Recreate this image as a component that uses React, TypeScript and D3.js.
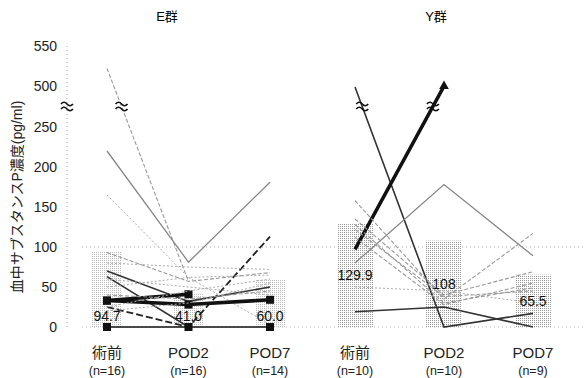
import React from 'react';
import * as d3 from 'd3';

const timepoints = ['術前', 'POD2', 'POD7'];
const countsE = ['(n=16)', '(n=16)', '(n=14)'];
const countsY = ['(n=10)', '(n=10)', '(n=9)'];
const meanE = [94.7, 41.0, 60.0];
const meanY = [129.9, 108, 65.5];
const meanLabelsE = ['94.7', '41.0', '60.0'];
const meanLabelsY = ['129.9', '108', '65.5'];
const yTicks = [0, 50, 100, 150, 200, 250, 500, 550];

// individual patients: values at 術前, POD2, POD7 (null = missing)
const patientsE = [
  { v: [522, 57, null], kind: 'grayDash' },
  { v: [220, 81, 181], kind: 'gray' },
  { v: [165, 62, 3], kind: 'grayDot' },
  { v: [93, 57, 68], kind: 'grayDash' },
  { v: [70, 32, 50], kind: 'dark' },
  { v: [63, 0, null], kind: 'dark' },
  { v: [25, 0, 113], kind: 'darkDash' },
  { v: [33, 28, 34], kind: 'bold', marker: true },
  { v: [33, 41, null], kind: 'bold', marker: true },
  { v: [0, 0, 0], kind: 'black', marker: true },
  { v: [25, 45, 60], kind: 'grayDot' },
  { v: [50, 62, 65], kind: 'grayDot' },
  { v: [80, 75, 72], kind: 'grayDot' },
  { v: [40, 35, 45], kind: 'grayDash' },
  { v: [20, 30, 55], kind: 'grayDot' },
  { v: [60, 50, 40], kind: 'grayDot' },
];

const patientsY = [
  { v: [494, 0, 17], kind: 'dark' },
  { v: [97, 499, null], kind: 'bold', arrow: true },
  { v: [80, 178, 89], kind: 'gray' },
  { v: [19, 25, 0], kind: 'dark' },
  { v: [158, 35, 117], kind: 'grayDash' },
  { v: [135, 40, 69], kind: 'grayDash' },
  { v: [128, 30, 49], kind: 'grayDash' },
  { v: [122, 38, 45], kind: 'grayDash' },
  { v: [50, 45, 30], kind: 'grayDot' },
  { v: [112, 28, 55], kind: 'grayDash' },
];

const styles: Record<string, any> = {
  gray: { stroke: '#888', width: 1.3, dash: null },
  grayDash: { stroke: '#999', width: 1.1, dash: '4,2' },
  grayDot: { stroke: '#aaa', width: 1, dash: '2,2' },
  dark: { stroke: '#333', width: 1.6, dash: null },
  darkDash: { stroke: '#222', width: 1.8, dash: '7,3' },
  bold: { stroke: '#111', width: 3.5, dash: null },
  black: { stroke: '#111', width: 1.6, dash: null },
};

const font = '"Liberation Sans", Arial, "Noto Sans CJK JP", sans-serif';

const y = d3.scaleLinear().domain([0, 250, 500, 550]).range([327, 127, 86, 46]);
const breakY = (y(250) + y(500)) / 2;

function Squiggle({ cx, cy }: { cx: number; cy: number }) {
  const w = (dy: number) => `M${cx - 6},${cy + dy} q3,-3.5 6,0 t6,0`;
  return (
    <g fill="none" stroke="#111" strokeWidth={1.6}>
      <path d={w(-2.5)} />
      <path d={w(2.5)} />
    </g>
  );
}

function Panel({ title, titleX, range, means, labels, counts, patients, barWidth, dotColor, pid, labelAt }: any) {
  const x = d3.scalePoint<string>().domain(timepoints).range(range);
  const line = d3
    .line<any>()
    .defined((d) => d.v != null)
    .x((d) => x(d.t) as number)
    .y((d) => y(d.v));

  // where a segment crosses the axis break, mark it with a squiggle
  const breaks: { cx: number; cy: number }[] = [];
  patients.forEach((p: any) => {
    for (let i = 0; i < 2; i++) {
      const a = p.v[i], b = p.v[i + 1];
      if (a == null || b == null) continue;
      const ya = y(a), yb = y(b);
      if ((ya - breakY) * (yb - breakY) < 0) {
        const f = (breakY - ya) / (yb - ya);
        const xa = x(timepoints[i]) as number, xb = x(timepoints[i + 1]) as number;
        breaks.push({ cx: xa + f * (xb - xa), cy: breakY });
      }
    }
  });

  return (
    <g>
      <defs>
        <pattern id={pid} width={2} height={2} patternUnits="userSpaceOnUse">
          <rect width={1} height={1} fill={dotColor} />
        </pattern>
      </defs>
      <text x={titleX} y={21} textAnchor="middle" fontSize={13} fontFamily={font}>
        {title}
      </text>
      {means.map((m: number, i: number) => (
        <rect
          key={i}
          x={(x(timepoints[i]) as number) - barWidth / 2}
          y={y(m)}
          width={barWidth}
          height={y(0) - y(m)}
          fill={`url(#${pid})`}
        />
      ))}
      {patients.map((p: any, k: number) => {
        const s = styles[p.kind];
        const pts = p.v.map((v: any, i: number) => ({ t: timepoints[i], v }));
        return (
          <g key={k}>
            <path
              d={line(pts) || ''}
              fill="none"
              stroke={s.stroke}
              strokeWidth={s.width}
              strokeDasharray={s.dash || undefined}
            />
            {p.marker &&
              pts
                .filter((d: any) => d.v != null)
                .map((d: any, i: number) => (
                  <rect key={i} x={(x(d.t) as number) - 4} y={y(d.v) - 4} width={8} height={8} fill="#111" />
                ))}
            {p.arrow && (
              <path
                d={d3.symbol().type(d3.symbolTriangle).size(40)() || ''}
                transform={`translate(${x(timepoints[1])},${y(p.v[1])})`}
                fill="#111"
              />
            )}
          </g>
        );
      })}
      {breaks.map((b, i) => (
        <Squiggle key={i} cx={b.cx} cy={b.cy} />
      ))}
      {means.map((m: number, i: number) => (
        <text
          key={i}
          x={x(timepoints[i]) as number}
          y={y(labelAt(m))}
          dy="0.35em"
          textAnchor="middle"
          fontSize={14}
          fontFamily={font}
          fill="#111"
        >
          {labels[i]}
        </text>
      ))}
      {timepoints.map((t, i) => (
        <g key={t} fontFamily={font} textAnchor="middle" fill="#222">
          <text x={x(t) as number} y={358} fontSize={15}>
            {t}
          </text>
          <text x={x(t) as number} y={375} fontSize={12.5}>
            {counts[i]}
          </text>
        </g>
      ))}
    </g>
  );
}

export default function App() {
  return (
    <svg width={588} height={378} style={{ position: 'absolute', left: 0, top: 0, background: '#fff' }}>
      <rect width={588} height={378} fill="#fff" />
      <line x1={82} x2={585} y1={y(100)} y2={y(100)} stroke="#aaa" strokeDasharray="1,3" />
      <line x1={82} x2={585} y1={y(0)} y2={y(0)} stroke="#bbb" strokeDasharray="1,3" />
      <line x1={67} x2={67} y1={y(550)} y2={y(0)} stroke="#aaa" strokeDasharray="1,3" />
      {yTicks.map((t) => (
        <text key={t} x={57} y={y(t)} dy="0.35em" textAnchor="end" fontSize={14} fontFamily={font} fill="#222">
          {t}
        </text>
      ))}
      <Squiggle cx={67} cy={breakY} />
      <text transform="translate(22,197) rotate(-90)" textAnchor="middle" fontSize={14} fontFamily={font} fill="#222">
        血中サブスタンスP濃度(pg/ml)
      </text>
      <Panel
        title="E群"
        titleX={167}
        range={[107, 270]}
        means={meanE}
        labels={meanLabelsE}
        counts={countsE}
        patients={patientsE}
        barWidth={30}
        dotColor="#bbb"
        pid="dotsE"
        labelAt={() => 14}
      />
      <Panel
        title="Y群"
        titleX={436}
        range={[355, 533]}
        means={meanY}
        labels={meanLabelsY}
        counts={countsY}
        patients={patientsY}
        barWidth={36}
        dotColor="#999"
        pid="dotsY"
        labelAt={(m: number) => m / 2}
      />
    </svg>
  );
}
